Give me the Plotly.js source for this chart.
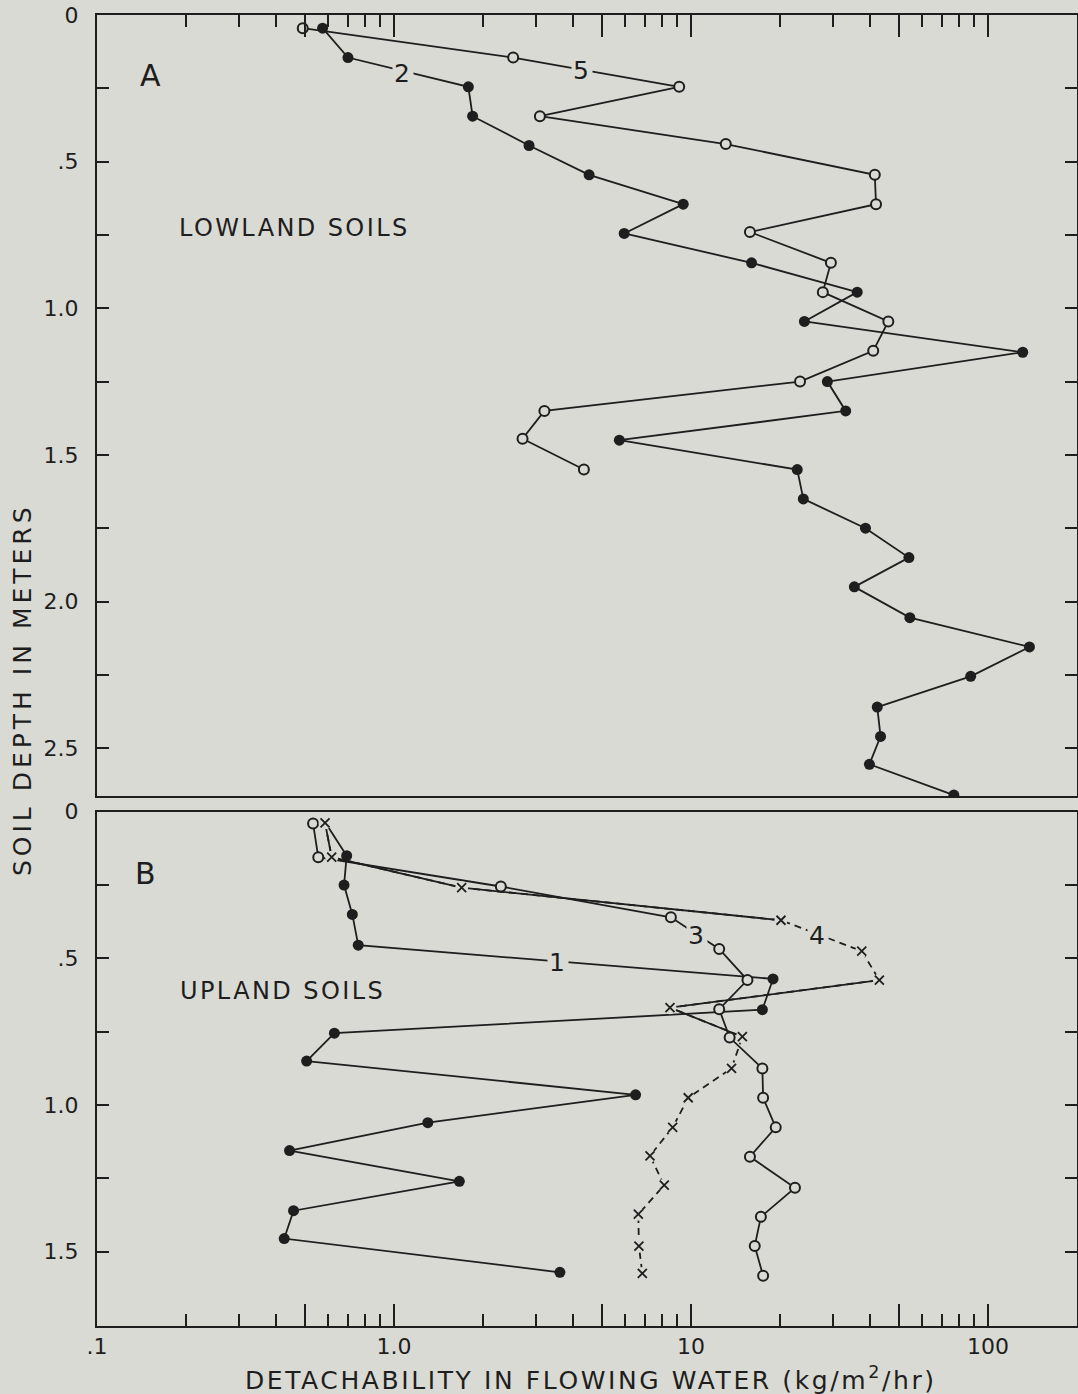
<!DOCTYPE html>
<html><head><meta charset="utf-8">
<script src="https://cdn.plot.ly/plotly-3.0.1.min.js"></script>
<style>
html,body{margin:0;padding:0;background:#d9dad3;}
text.annotation-text{letter-spacing:2.4px;}
g.annotation[data-index="0"] text{letter-spacing:4px;}
g.annotation[data-index="1"] text{letter-spacing:2.6px;}
</style>
</head><body>
<div id="chart" style="width:1078px;height:1394px;"></div>
<script>
// ---------- Panel A : lowland soils ----------
const depthA2  = [0.045,0.145,0.245,0.345,0.445,0.545,0.645,0.745,0.845,0.945,1.045,1.15,1.25,1.35,1.45,1.55,1.65,1.75,1.85,1.95,2.055,2.155,2.255,2.36,2.46,2.555,2.66];
const detachA2 = [0.575,0.70,1.78,1.84,2.85,4.54,9.42,5.96,16.0,36.3,24.1,131,28.8,33.2,5.74,22.8,23.9,38.7,54.2,35.5,54.6,138,87.5,42.4,43.5,39.9,76.8];
const depthA5  = [0.045,0.145,0.245,0.345,0.44,0.545,0.645,0.74,0.845,0.945,1.045,1.145,1.25,1.35,1.445,1.55];
const detachA5 = [0.493,2.52,9.13,3.10,13.1,41.6,42.0,15.8,29.6,27.8,46.2,41.1,23.3,3.21,2.71,4.36];

// ---------- Panel B : upland soils ----------
const depthB1  = [0.04,0.15,0.25,0.35,0.455,0.57,0.675,0.755,0.85,0.965,1.06,1.155,1.26,1.36,1.455,1.57];
const detachB1 = [0.59,0.693,0.679,0.724,0.758,18.9,17.4,0.630,0.508,6.51,1.30,0.445,1.66,0.459,0.427,3.62];
const depthB3  = [0.04,0.155,0.255,0.36,0.468,0.574,0.673,0.77,0.875,0.975,1.076,1.176,1.282,1.381,1.48,1.582];
const detachB3 = [0.534,0.556,2.29,8.56,12.45,15.5,12.45,13.5,17.4,17.5,19.3,15.8,22.4,17.2,16.4,17.5];
const depthB4  = [0.038,0.155,0.259,0.37,0.475,0.574,0.668,0.767,0.875,0.975,1.076,1.173,1.273,1.372,1.481,1.574];
const detachB4 = [0.586,0.617,1.69,20.1,37.6,43.1,8.5,14.9,13.7,9.79,8.68,7.28,8.13,6.65,6.68,6.86];

// ---------- Axis ticks ----------
const xMajorTicks  = [0.1,0.5,1,5,10,50,100];
const xMajorLabels = ['.1','','1.0','','10','','100'];
const xMinorTicks  = [0.2,0.3,0.4,0.6,0.7,0.8,0.9,2,3,4,6,7,8,9,20,30,40,60,70,80,90];
const yTicksA  = [0,0.25,0.5,0.75,1,1.25,1.5,1.75,2,2.25,2.5];
const yLabelsA = ['0','','.5','','1.0','','1.5','','2.0','','2.5'];
const yTicksB  = [0,0.25,0.5,0.75,1,1.25,1.5];
const yLabelsB = ['0','','.5','','1.0','','1.5'];

const INK = '#1e1e1e';
const BG  = '#d9dad3';
const LW  = 1.8;

function line(x, y, xa, ya, dash) {
  return {x: x, y: y, xaxis: xa, yaxis: ya, mode: 'lines', type: 'scatter',
          line: {color: INK, width: LW, dash: dash || 'solid'}, hoverinfo: 'skip'};
}
function filled(x, y, xa, ya) {
  return {x: x, y: y, xaxis: xa, yaxis: ya, mode: 'markers', type: 'scatter',
          marker: {symbol: 'circle', size: 11, color: INK, line: {width: 0}}, hoverinfo: 'skip'};
}
function open(x, y, xa, ya) {
  return {x: x, y: y, xaxis: xa, yaxis: ya, mode: 'markers', type: 'scatter',
          marker: {symbol: 'circle', size: 10, color: BG, line: {width: 2, color: INK}}, hoverinfo: 'skip'};
}
function cross(x, y, xa, ya) {
  return [
    {x: x, y: y, xaxis: xa, yaxis: ya, mode: 'markers', type: 'scatter',
     marker: {symbol: 'circle', size: 13, color: BG, line: {width: 0}}, hoverinfo: 'skip'},
    {x: x, y: y, xaxis: xa, yaxis: ya, mode: 'markers', type: 'scatter',
     marker: {symbol: 'x-thin', size: 9, color: INK, line: {width: 1.8, color: INK}}, hoverinfo: 'skip'}
  ];
}

const traces = [
  // panel A lines
  line(detachA5, depthA5, 'x2', 'y2'),
  line(detachA2, depthA2, 'x2', 'y2'),
  // panel B lines
  line(detachB4, depthB4, 'x', 'y', '7px,5px'),
  line(detachB4.slice(0,4), depthB4.slice(0,4), 'x', 'y'),
  line(detachB4.slice(5,8), depthB4.slice(5,8), 'x', 'y'),
  line(detachB3, depthB3, 'x', 'y'),
  line(detachB1, depthB1, 'x', 'y'),
  // markers
  open(detachA5, depthA5, 'x2', 'y2'),
  filled(detachA2, depthA2, 'x2', 'y2'),
  open(detachB3, depthB3, 'x', 'y'),
  ...cross(detachB4, depthB4, 'x', 'y'),
  filled(detachB1.slice(1), depthB1.slice(1), 'x', 'y')
];

const xCommon = {
  type: 'log', range: [-1, 2.3], showgrid: false, zeroline: false,
  showline: true, mirror: true, linecolor: INK, linewidth: 2,
  ticks: 'inside', ticklen: 22, tickwidth: 2, tickcolor: INK,
  tickmode: 'array', tickvals: xMajorTicks, ticktext: xMajorLabels,
  minor: {tickmode: 'array', tickvals: xMinorTicks, ticks: 'inside', ticklen: 12,
          tickwidth: 2, tickcolor: INK, showgrid: false},
  tickfont: {family: 'DejaVu Sans', size: 22, color: INK}
};
const yCommon = {
  showgrid: false, zeroline: false, showline: true, mirror: 'ticks',
  linecolor: INK, linewidth: 2, ticks: 'inside', ticklen: 12, tickwidth: 2, tickcolor: INK,
  tickmode: 'array', ticklabelstandoff: 12,
  tickfont: {family: 'DejaVu Sans', size: 22, color: INK}
};

function note(text, x, y, size, masked) {
  const a = {text: text, xref: 'paper', yref: 'paper', x: x, y: y,
             xanchor: 'center', yanchor: 'middle', showarrow: false, font: {size: size}};
  if (masked) { a.bgcolor = BG; a.borderpad = 1; }
  return a;
}

const yTitle = note('SOIL DEPTH IN METERS', -0.0765, 0.4851, 25);
yTitle.textangle = -90;

const layout = {
  width: 1078, height: 1394,
  paper_bgcolor: BG, plot_bgcolor: BG,
  margin: {l: 97, r: 1, t: 15, b: 68},
  showlegend: false,
  font: {family: 'DejaVu Sans', size: 22, color: INK},
  xaxis: Object.assign({}, xCommon, {anchor: 'y', side: 'bottom', ticklabelstandoff: 0}),
  xaxis2: Object.assign({}, xCommon, {anchor: 'y2', side: 'top', matches: 'x', showticklabels: false}),
  yaxis: Object.assign({}, yCommon, {anchor: 'x', domain: [0, 0.3923], range: [1.753, 0],
                                     tickvals: yTicksB, ticktext: yLabelsB}),
  yaxis2: Object.assign({}, yCommon, {anchor: 'x2', domain: [0.4043, 1], range: [2.663, 0],
                                      tickvals: yTicksA, ticktext: yLabelsA}),
  annotations: [
    yTitle,
    note('DETACHABILITY IN FLOWING WATER (kg/m<sup>2</sup>/hr)', 0.504, -0.0397, 25),
    note('A', 0.0558, 0.9535, 30),
    note('B', 0.0507, 0.3453, 30),
    note('LOWLAND SOILS', 0.202, 0.8375, 24),
    note('UPLAND SOILS', 0.189, 0.2555, 24),
    note('2', 0.3126, 0.9555, 25, true),
    note('5', 0.4952, 0.9575, 25, true),
    note('1', 0.4707, 0.2771, 25, true),
    note('3', 0.6119, 0.2982, 25, true),
    note('4', 0.7360, 0.2982, 25, true)
  ]
};

Plotly.newPlot('chart', traces, layout, {displayModeBar: false, staticPlot: true});
</script>
</body></html>
